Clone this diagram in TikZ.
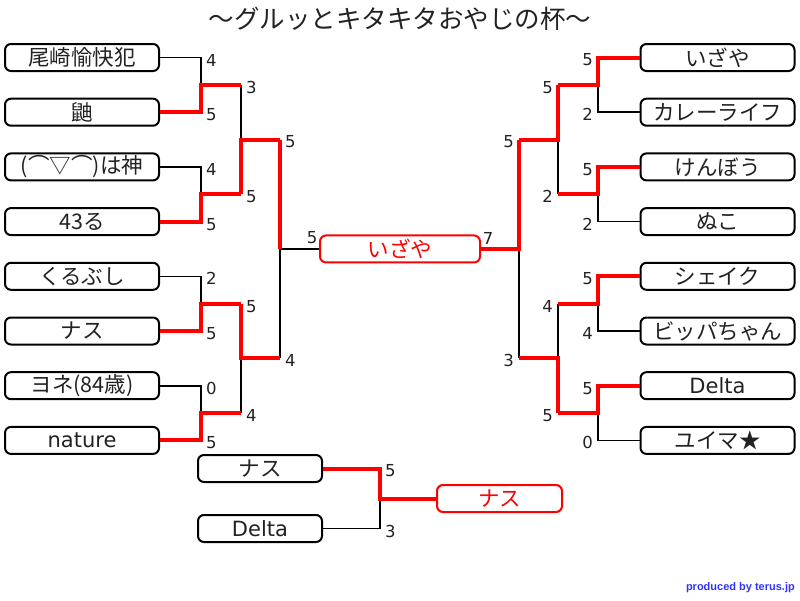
\documentclass[tikz,border=0pt]{standalone}
\usepackage{fontspec}
\setmainfont{Noto Sans CJK JP}
\newfontfamily\numfont{DejaVu Sans}
\newfontfamily\credfont{Liberation Sans}
\definecolor{winred}{RGB}{255,0,0}
\definecolor{credblue}{RGB}{51,51,255}
\definecolor{txt}{RGB}{34,34,34}
\begin{document}
\begin{tikzpicture}[x=1pt,y=-1pt,
  player/.style={draw=black, line width=2pt, rounded corners=6pt, minimum width=154pt, minimum height=27pt, inner sep=0pt, font=\fontsize{21.5}{21.5}\selectfont, text=txt, fill=white},
  champ/.style={player, draw=winred, text=winred, minimum width=160pt},
  small/.style={player, minimum width=124pt},
  lose/.style={draw=black, line width=1.6pt},
  win/.style={draw=winred, line width=4pt, line join=miter},
  score/.style={inner sep=0pt, font=\numfont\fontsize{16.5}{16.5}\selectfont, text=txt},
  latin/.style={font=\numfont\fontsize{21}{21}\selectfont},
]
\fill[white] (0,0) rectangle (800,600);
\useasboundingbox (0,0) rectangle (800,600);

% title
\node[font=\fontsize{25.5}{25.5}\selectfont, text=txt] (title) at (400,19) {～グルッとキタキタおやじの杯～};

% left players
\node[player] (L1) at (82,57.5) {尾崎愉快犯};
\node[player] (L2) at (82,112.2) {鼬};
\node[player] (L3) at (82,166.9) {(⌒▽⌒)は神};
\node[player] (L4) at (82,221.6) {43る};
\node[player] (L5) at (82,276.3) {くるぶし};
\node[player] (L6) at (82,331) {ナス};
\node[player] (L7) at (82,385.7) {ヨネ(84歳)};
\node[player,latin] (L8) at (82,440.4) {nature};

% right players
\node[player] (R1) at (717.5,57.5) {いざや};
\node[player] (R2) at (717.5,112.2) {カレーライフ};
\node[player] (R3) at (717.5,166.9) {けんぼう};
\node[player] (R4) at (717.5,221.6) {ぬこ};
\node[player] (R5) at (717.5,276.3) {シェイク};
\node[player] (R6) at (717.5,331) {ビッパちゃん};
\node[player,latin] (R7) at (717.5,385.7) {Delta};
\node[player] (R8) at (717.5,440.4) {ユイマ★};

% champion
\node[champ] (C) at (400,248.95) {いざや};

% third place
\node[small] (N) at (260,468.5) {ナス};
\node[small,latin] (D) at (260,528.5) {Delta};
\node[champ, minimum width=125pt] (T) at (499.5,498.5) {ナス};

% junction coordinates left
\coordinate (lq12) at (201,84.85);   \coordinate (lp12) at (241,84.85);
\coordinate (lq34) at (201,194.25);  \coordinate (lp34) at (241,194.25);
\coordinate (lq56) at (201,303.65);  \coordinate (lp56) at (241,303.65);
\coordinate (lq78) at (201,413.05);  \coordinate (lp78) at (241,413.05);
\coordinate (lq1234) at (241,139.55); \coordinate (lp1234) at (280,139.55);
\coordinate (lq5678) at (241,358.35); \coordinate (lp5678) at (280,358.35);
\coordinate (lqF) at (280,248.95);
% junction coordinates right
\coordinate (rq12) at (598,84.85);   \coordinate (rp12) at (558,84.85);
\coordinate (rq34) at (598,194.25);  \coordinate (rp34) at (558,194.25);
\coordinate (rq56) at (598,303.65);  \coordinate (rp56) at (558,303.65);
\coordinate (rq78) at (598,413.05);  \coordinate (rp78) at (558,413.05);
\coordinate (rq1234) at (558,139.55); \coordinate (rp1234) at (519,139.55);
\coordinate (rq5678) at (558,358.35); \coordinate (rp5678) at (519,358.35);
\coordinate (rqF) at (519,248.95);
\coordinate (tq) at (380,498.5);

% left losers
\draw[lose] (L1.east) -| (lq12);
\draw[lose] (L3.east) -| (lq34);
\draw[lose] (L5.east) -| (lq56);
\draw[lose] (L7.east) -| (lq78);
\draw[lose] (lp12) -- (lq1234);
\draw[lose] (lp78) -- (lq5678);
\draw[lose] (lp5678) -- (lqF);
\draw[lose] (lqF) -- (C.west);
% left winners
\draw[win] (L2.east) -| (lq12) -- (lp12);
\draw[win] (L4.east) -| (lq34) -- (lp34);
\draw[win] (L6.east) -| (lq56) -- (lp56);
\draw[win] (L8.east) -| (lq78) -- (lp78);
\draw[win] (lp34) -- (lq1234) -- (lp1234);
\draw[win] (lp56) -- (lq5678) -- (lp5678);
\draw[win] (lp1234) -- (lqF);

% right losers
\draw[lose] (R2.west) -| (rq12);
\draw[lose] (R4.west) -| (rq34);
\draw[lose] (R6.west) -| (rq56);
\draw[lose] (R8.west) -| (rq78);
\draw[lose] (rp34) -- (rq1234);
\draw[lose] (rp56) -- (rq5678);
\draw[lose] (rp5678) -- (rqF);
% right winners
\draw[win] (R1.west) -| (rq12) -- (rp12);
\draw[win] (R3.west) -| (rq34) -- (rp34);
\draw[win] (R5.west) -| (rq56) -- (rp56);
\draw[win] (R7.west) -| (rq78) -- (rp78);
\draw[win] (rp12) -- (rq1234) -- (rp1234);
\draw[win] (rp78) -- (rq5678) -- (rp5678);
\draw[win] (rp1234) -- (rqF) -- (C.east);

% third place lines
\draw[lose] (D.east) -| (tq);
\draw[win] (N.east) -| (tq) -- (T.west);

% left scores
\node[score,anchor=west] (sL1) at (206,60) {4};
\node[score,anchor=west] (sL2) at (206,114.7) {5};
\node[score,anchor=west] (sL3) at (206,169.4) {4};
\node[score,anchor=west] (sL4) at (206,224.1) {5};
\node[score,anchor=west] (sL5) at (206,278.8) {2};
\node[score,anchor=west] (sL6) at (206,333.5) {5};
\node[score,anchor=west] (sL7) at (206,388.2) {0};
\node[score,anchor=west] (sL8) at (206,442.9) {5};
\node[score,anchor=west] (sL12) at (246,87.35) {3};
\node[score,anchor=west] (sL34) at (246,196.75) {5};
\node[score,anchor=west] (sL56) at (246,306.15) {5};
\node[score,anchor=west] (sL78) at (246,415.55) {4};
\node[score,anchor=west] (sL1234) at (285,142.05) {5};
\node[score,anchor=west] (sL5678) at (285,360.85) {4};
% right scores
\node[score,anchor=east] (sR1) at (593,60) {5};
\node[score,anchor=east] (sR2) at (593,114.7) {2};
\node[score,anchor=east] (sR3) at (593,169.4) {5};
\node[score,anchor=east] (sR4) at (593,224.1) {2};
\node[score,anchor=east] (sR5) at (593,278.8) {5};
\node[score,anchor=east] (sR6) at (593,333.5) {4};
\node[score,anchor=east] (sR7) at (593,388.2) {5};
\node[score,anchor=east] (sR8) at (593,442.9) {0};
\node[score,anchor=east] (sR12) at (553,87.35) {5};
\node[score,anchor=east] (sR34) at (553,196.75) {2};
\node[score,anchor=east] (sR56) at (553,306.15) {4};
\node[score,anchor=east] (sR78) at (553,415.55) {5};
\node[score,anchor=east] (sR1234) at (514,142.05) {5};
\node[score,anchor=east] (sR5678) at (514,360.85) {3};
% final scores
\node[score] (sCL) at (312,238) {5};
\node[score] (sCR) at (488,238) {7};
% third place scores
\node[score,anchor=west] (sN) at (385,471) {5};
\node[score,anchor=west] (sD) at (385,531) {3};

% credit
\node[anchor=east, inner sep=0pt, text=credblue, font=\credfont\bfseries\fontsize{11}{11}\selectfont] (credit) at (795,588) {produced by terus.jp};
\end{tikzpicture}
\end{document}
